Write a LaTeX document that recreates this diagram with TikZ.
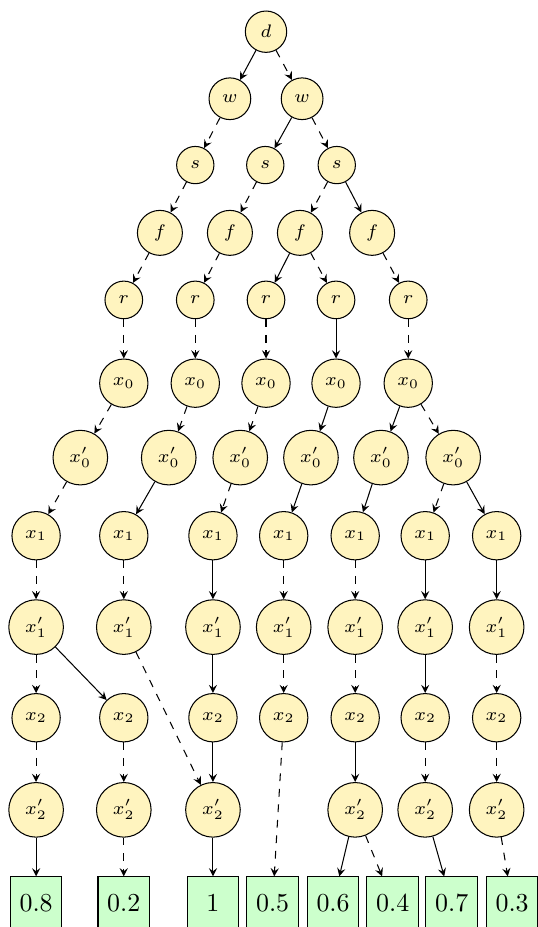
\documentclass[tikz,border=0pt]{standalone}
\usepackage{amsmath, amssymb}
\usepackage{tikz}
\usetikzlibrary{arrows.meta, positioning}
\definecolor{varfill}{RGB}{255,244,191}

\begin{document}
\begin{tikzpicture}[var/.style={circle, draw, fill=varfill, font=\scriptsize, inner sep=3.4pt},
        leaf/.style={rectangle, draw, fill=green!20, minimum size=7mm, inner sep=3.33pt},
        hi/.style={->, >=stealth},
        lo/.style={->, >=stealth, dashed}]
        \useasboundingbox (0,0) rectangle (7.30,-12.58);
        % variables
        \node[var] (d) at (3.61,-0.43) {$d$};
        \node[var] (w1) at (3.12,-1.34) {$w$};
        \node[var] (w2) at (4.10,-1.34) {$w$};
        \node[var] (s1) at (2.65,-2.24) {$s$};
        \node[var] (s2) at (3.60,-2.24) {$s$};
        \node[var] (s3) at (4.57,-2.24) {$s$};
        \node[var] (f1) at (2.17,-3.16) {$f$};
        \node[var] (f2) at (3.12,-3.16) {$f$};
        \node[var] (f3) at (4.07,-3.16) {$f$};
        \node[var] (f4) at (5.05,-3.16) {$f$};
        \node[var] (r1) at (1.68,-4.07) {$r$};
        \node[var] (r2) at (2.65,-4.07) {$r$};
        \node[var] (r3) at (3.61,-4.07) {$r$};
        \node[var] (r4) at (4.56,-4.07) {$r$};
        \node[var] (r5) at (5.54,-4.07) {$r$};
        \node[var] (x0n1) at (1.68,-5.20) {$x_0$};
        \node[var] (x0n2) at (2.65,-5.20) {$x_0$};
        \node[var] (x0n3) at (3.61,-5.20) {$x_0$};
        \node[var] (x0n4) at (4.56,-5.20) {$x_0$};
        \node[var] (x0n5) at (5.54,-5.20) {$x_0$};
        \node[var] (x0p1) at (1.09,-6.21) {$x_0'$};
        \node[var] (x0p2) at (2.29,-6.21) {$x_0'$};
        \node[var] (x0p3) at (3.26,-6.21) {$x_0'$};
        \node[var] (x0p4) at (4.22,-6.21) {$x_0'$};
        \node[var] (x0p5) at (5.17,-6.21) {$x_0'$};
        \node[var] (x0p6) at (6.15,-6.21) {$x_0'$};
        \node[var] (x1n1) at (0.49,-7.27) {$x_1$};
        \node[var] (x1n2) at (1.68,-7.27) {$x_1$};
        \node[var] (x1n3) at (2.89,-7.27) {$x_1$};
        \node[var] (x1n4) at (3.85,-7.27) {$x_1$};
        \node[var] (x1n5) at (4.82,-7.27) {$x_1$};
        \node[var] (x1n6) at (5.77,-7.27) {$x_1$};
        \node[var] (x1n7) at (6.74,-7.27) {$x_1$};
        \node[var] (x1p1) at (0.49,-8.51) {$x_1'$};
        \node[var] (x1p2) at (1.68,-8.51) {$x_1'$};
        \node[var] (x1p3) at (2.89,-8.51) {$x_1'$};
        \node[var] (x1p4) at (3.85,-8.51) {$x_1'$};
        \node[var] (x1p5) at (4.82,-8.51) {$x_1'$};
        \node[var] (x1p6) at (5.77,-8.51) {$x_1'$};
        \node[var] (x1p7) at (6.74,-8.51) {$x_1'$};
        \node[var] (x2n1) at (0.49,-9.74) {$x_2$};
        \node[var] (x2n2) at (1.68,-9.74) {$x_2$};
        \node[var] (x2n3) at (2.89,-9.74) {$x_2$};
        \node[var] (x2n4) at (3.85,-9.74) {$x_2$};
        \node[var] (x2n5) at (4.82,-9.74) {$x_2$};
        \node[var] (x2n6) at (5.77,-9.74) {$x_2$};
        \node[var] (x2n7) at (6.74,-9.74) {$x_2$};
        \node[var] (x2p1) at (0.49,-10.99) {$x_2'$};
        \node[var] (x2p2) at (1.68,-10.99) {$x_2'$};
        \node[var] (x2p3) at (2.89,-10.99) {$x_2'$};
        \node[var] (x2p5) at (4.82,-10.99) {$x_2'$};
        \node[var] (x2p6) at (5.77,-10.99) {$x_2'$};
        \node[var] (x2p7) at (6.74,-10.99) {$x_2'$};
        % terminals
        \node[leaf] (v1) at (0.49,-12.25) {0.8};
        \node[leaf] (v2) at (1.68,-12.25) {0.2};
        \node[leaf] (v3) at (2.89,-12.25) {1};
        \node[leaf] (v4) at (3.70,-12.25) {0.5};
        \node[leaf] (v5) at (4.52,-12.25) {0.6};
        \node[leaf] (v6) at (5.33,-12.25) {0.4};
        \node[leaf] (v7) at (6.13,-12.25) {0.7};
        \node[leaf] (v8) at (6.95,-12.25) {0.3};
        % edges
        \draw[hi] (d) -- (w1);
        \draw[lo] (d) -- (w2);
        \draw[lo] (w1) -- (s1);
        \draw[hi] (w2) -- (s2);
        \draw[lo] (w2) -- (s3);
        \draw[lo] (s1) -- (f1);
        \draw[lo] (s2) -- (f2);
        \draw[lo] (s3) -- (f3);
        \draw[hi] (s3) -- (f4);
        \draw[lo] (f1) -- (r1);
        \draw[lo] (f2) -- (r2);
        \draw[hi] (f3) -- (r3);
        \draw[lo] (f3) -- (r4);
        \draw[lo] (f4) -- (r5);
        \draw[lo] (r1) -- (x0n1);
        \draw[lo] (r2) -- (x0n2);
        \draw[lo] (r3) -- (x0n3);
        \draw[hi] (r4) -- (x0n4);
        \draw[lo] (r5) -- (x0n5);
        \draw[lo] (x0n1) -- (x0p1);
        \draw[lo] (x0n2) -- (x0p2);
        \draw[lo] (x0n3) -- (x0p3);
        \draw[hi] (x0n4) -- (x0p4);
        \draw[hi] (x0n5) -- (x0p5);
        \draw[lo] (x0n5) -- (x0p6);
        \draw[lo] (x0p1) -- (x1n1);
        \draw[hi] (x0p2) -- (x1n2);
        \draw[lo] (x0p3) -- (x1n3);
        \draw[hi] (x0p4) -- (x1n4);
        \draw[hi] (x0p5) -- (x1n5);
        \draw[lo] (x0p6) -- (x1n6);
        \draw[hi] (x0p6) -- (x1n7);
        \draw[lo] (x1n1) -- (x1p1);
        \draw[lo] (x1n2) -- (x1p2);
        \draw[hi] (x1n3) -- (x1p3);
        \draw[lo] (x1n4) -- (x1p4);
        \draw[lo] (x1n5) -- (x1p5);
        \draw[hi] (x1n6) -- (x1p6);
        \draw[hi] (x1n7) -- (x1p7);
        \draw[lo] (x1p1) -- (x2n1);
        \draw[hi] (x1p1) -- (x2n2);
        \draw[lo] (x1p2) -- (x2p3);
        \draw[hi] (x1p3) -- (x2n3);
        \draw[lo] (x1p4) -- (x2n4);
        \draw[lo] (x1p5) -- (x2n5);
        \draw[hi] (x1p6) -- (x2n6);
        \draw[lo] (x1p7) -- (x2n7);
        \draw[lo] (x2n1) -- (x2p1);
        \draw[lo] (x2n2) -- (x2p2);
        \draw[hi] (x2n3) -- (x2p3);
        \draw[lo] (x2n4) -- (v4);
        \draw[hi] (x2n5) -- (x2p5);
        \draw[lo] (x2n6) -- (x2p6);
        \draw[lo] (x2n7) -- (x2p7);
        \draw[hi] (x2p1) -- (v1);
        \draw[lo] (x2p2) -- (v2);
        \draw[hi] (x2p3) -- (v3);
        \draw[hi] (x2p5) -- (v5);
        \draw[lo] (x2p5) -- (v6);
        \draw[hi] (x2p6) -- (v7);
        \draw[lo] (x2p7) -- (v8);
    \end{tikzpicture}
\end{document}
